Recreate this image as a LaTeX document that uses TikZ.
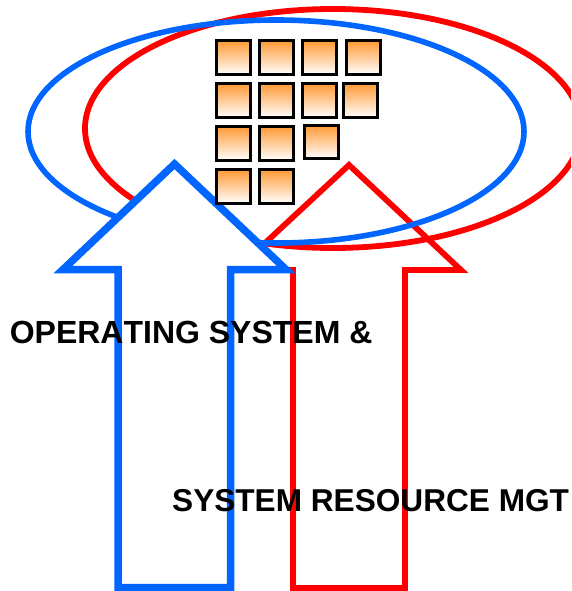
\documentclass[tikz,border=0pt]{standalone}
\usepackage{fontspec}
\setmainfont{Liberation Sans}
\definecolor{ablue}{RGB}{0,102,255}
\definecolor{ared}{RGB}{255,0,0}
\definecolor{aorange}{RGB}{255,153,51}
\tikzset{
  x=1pt,y=-1pt,
  sqq/.style={draw=black,line width=3pt,shading=axis,top color=aorange,bottom color=white,minimum size=33.6pt,inner sep=0pt,outer sep=0pt,anchor=north west},
  lab/.style={font=\bfseries\fontsize{32}{36}\selectfont,anchor=base west,inner sep=0pt,text=black},
  labb/.style={font=\bfseries\fontsize{31.6}{36}\selectfont,anchor=base west,inner sep=0pt,text=black},
  redline/.style={draw=ared,line width=5.8pt,miter limit=10},
  blueline/.style={draw=ablue,line width=5.6pt},
  bluearrow/.style={draw=ablue,line width=7.5pt,fill=white,miter limit=10}
}
\begin{document}
\begin{tikzpicture}
\useasboundingbox (0,0) rectangle (571,591);
% red arrow (no fill)
\draw[redline] (349,165) -- (461,270) -- (405,270) -- (405,588) -- (293,588) -- (293,270) -- (236,270) -- cycle;
% ellipses
\begin{scope}
\clip (0,0) rectangle (571,591);
\draw[redline] (333,128.5) ellipse [x radius=248, y radius=119.5];
\end{scope}
\draw[blueline] (276,131.5) ellipse [x radius=248, y radius=111.5];
% blue arrow
\draw[bluearrow] (174.5,164) -- (286,269.5) -- (230.5,269.5) -- (230.5,587.5) -- (118,587.5) -- (118,269.5) -- (63,269.5) -- cycle;
% squares
\node[sqq] (s11) at (216.5,40.5) {};
\node[sqq] (s12) at (259.5,40.5) {};
\node[sqq] (s13) at (302.5,40.5) {};
\node[sqq] (s14) at (346.5,40.5) {};
\node[sqq] (s21) at (216.5,83.5) {};
\node[sqq] (s22) at (259.5,83.5) {};
\node[sqq] (s23) at (302.5,83.5) {};
\node[sqq] (s24) at (343.5,83.5) {};
\node[sqq] (s31) at (216.5,126.5) {};
\node[sqq] (s32) at (259.5,126.5) {};
\node[sqq] (s33) at (304.5,125) {};
\node[sqq] (s41) at (216.5,169.5) {};
\node[sqq] (s42) at (259.5,169.5) {};
% labels
\node[lab] (l1) at (9.6,343) {\addfontfeature{Kerning=Off}OPERATING SYSTEM \&};
\node[labb] (l2) at (172,511) {SYSTEM RESOURCE MGT};
\end{tikzpicture}
\end{document}
